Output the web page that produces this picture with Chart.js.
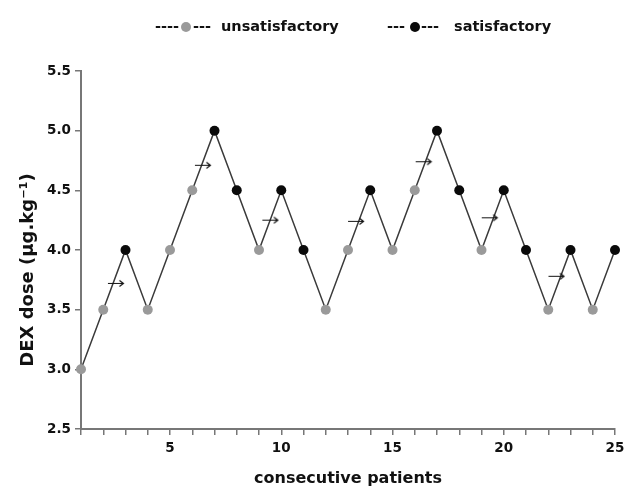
<!DOCTYPE html>
<html>
<head>
<meta charset="utf-8">
<script src="https://cdn.jsdelivr.net/npm/chart.js@4"></script>
<style>
  body { margin: 0; background: #fff; }
</style>
</head>
<body>
<canvas id="myChart" width="632" height="489"></canvas>
<script>
// consecutive patients and the dose each received
const patients = [1, 2, 3, 4, 5, 6, 7, 8, 9, 10, 11, 12, 13, 14, 15, 16, 17, 18, 19, 20, 21, 22, 23, 24, 25];
const dose = [3.0, 3.5, 4.0, 3.5, 4.0, 4.5, 5.0, 4.5, 4.0, 4.5, 4.0, 3.5, 4.0, 4.5, 4.0, 4.5, 5.0, 4.5, 4.0, 4.5, 4.0, 3.5, 4.0, 3.5, 4.0];
// S = satisfactory, U = unsatisfactory
const outcome = ['U', 'U', 'S', 'U', 'U', 'U', 'S', 'S', 'U', 'S', 'S', 'U', 'U', 'S', 'U', 'U', 'S', 'S', 'U', 'S', 'S', 'U', 'S', 'U', 'S'];
// crossover midpoints marked with arrows
const arrowX = [2.57, 6.48, 9.51, 13.36, 16.4, 19.37, 22.37];
const arrowY = [3.72, 4.71, 4.25, 4.24, 4.74, 4.27, 3.78];
const yTicks = [2.5, 3.0, 3.5, 4.0, 4.5, 5.0, 5.5];

const GREY = '#9a9a9a';
const BLACK = '#0a0a0a';
const FONT = 'DejaVu Sans';

function pick(code) {
  return patients.map((p, i) => ({ x: p, y: dose[i], c: outcome[i] }))
                 .filter(d => d.c === code);
}

// small arrow sprite for the crossover markers
const arrow = document.createElement('canvas');
arrow.width = 18; arrow.height = 9;
(function () {
  const c = arrow.getContext('2d');
  c.strokeStyle = '#111';
  c.lineWidth = 1.2;
  c.beginPath();
  c.moveTo(1, 4.5); c.lineTo(16.5, 4.5);
  c.moveTo(12.5, 1.5); c.lineTo(16.5, 4.5); c.lineTo(12.5, 7.5);
  c.stroke();
})();

const legendPlugin = {
  id: 'topLegend',
  afterDraw(chart) {
    const c = chart.ctx;
    c.save();
    c.textBaseline = 'middle';
    c.font = 'bold 14.5px ' + FONT;
    const items = [
      { dash1: '----', x: 155, dot: 186, dash2x: 193, tx: 221, col: GREY, label: 'unsatisfactory' },
      { dash1: '---', x: 387, dot: 415, dash2x: 421, tx: 454, col: BLACK, label: 'satisfactory' }
    ];
    const y = 27;
    items.forEach(it => {
      c.fillStyle = '#111';
      c.fillText(it.dash1, it.x, y);
      c.fillText('---', it.dash2x, y);
      c.fillText(it.label, it.tx, y);
      c.fillStyle = it.col;
      c.beginPath();
      c.arc(it.dot, y, 5, 0, Math.PI * 2);
      c.fill();
    });

    // y axis title, sits a little below the middle of the axis
    c.translate(28, 270);
    c.rotate(-Math.PI / 2);
    c.textAlign = 'center';
    c.fillStyle = '#111';
    c.font = 'bold 18px ' + FONT;
    c.fillText('DEX dose (μg.kg⁻¹)', 0, 0);
    c.restore();
  }
};

const ctx = document.getElementById('myChart');

new Chart(ctx, {
  type: 'scatter',
  data: {
    datasets: [
      {
        label: 'arrows',
        data: arrowX.map((x, i) => ({ x: x, y: arrowY[i] })),
        pointStyle: arrow,
        pointRadius: 9,
        order: 0
      },
      {
        label: 'unsatisfactory',
        data: pick('U'),
        backgroundColor: GREY,
        borderColor: GREY,
        pointRadius: 5,
        pointBorderWidth: 0,
        order: 1
      },
      {
        label: 'satisfactory',
        data: pick('S'),
        backgroundColor: BLACK,
        borderColor: BLACK,
        pointRadius: 5,
        pointBorderWidth: 0,
        order: 1
      },
      {
        label: 'course',
        data: patients.map((p, i) => ({ x: p, y: dose[i] })),
        showLine: true,
        borderColor: '#3a3a3a',
        borderWidth: 1.5,
        pointRadius: 0,
        order: 2
      }
    ]
  },
  options: {
    responsive: false,
    animation: false,
    devicePixelRatio: 1,
    clip: false,
    layout: { padding: { top: 71, right: 17, left: 0, bottom: 0 } },
    plugins: {
      legend: { display: false },
      tooltip: { enabled: false }
    },
    scales: {
      x: {
        type: 'linear',
        min: 1,
        max: 25,
        afterFit: s => { s.height = 60; },
        border: { color: '#777', width: 2 },
        grid: { drawOnChartArea: false, color: '#777', tickLength: 6, lineWidth: 1.5 },
        ticks: {
          stepSize: 1,
          autoSkip: false,
          maxRotation: 0,
          padding: 5,
          color: '#111',
          font: { family: FONT, size: 13.5, weight: 'bold' },
          callback: v => (v % 5 === 0 ? v : '')
        },
        title: {
          display: true,
          text: 'consecutive patients',
          color: '#111',
          padding: { top: 0, bottom: 1 },
          font: { family: FONT, size: 16, weight: 'bold' }
        }
      },
      y: {
        min: 2.5,
        max: 5.5,
        afterFit: s => { s.width = 81; },
        afterBuildTicks: s => { s.ticks = yTicks.map(v => ({ value: v })); },
        border: { color: '#777', width: 2 },
        grid: { drawOnChartArea: false, color: '#777', tickLength: 6, lineWidth: 1.5 },
        ticks: {
          padding: 4,
          color: '#111',
          font: { family: FONT, size: 13.5, weight: 'bold' },
          callback: v => v.toFixed(1)
        }
      }
    }
  },
  plugins: [legendPlugin]
});
</script>
</body>
</html>
